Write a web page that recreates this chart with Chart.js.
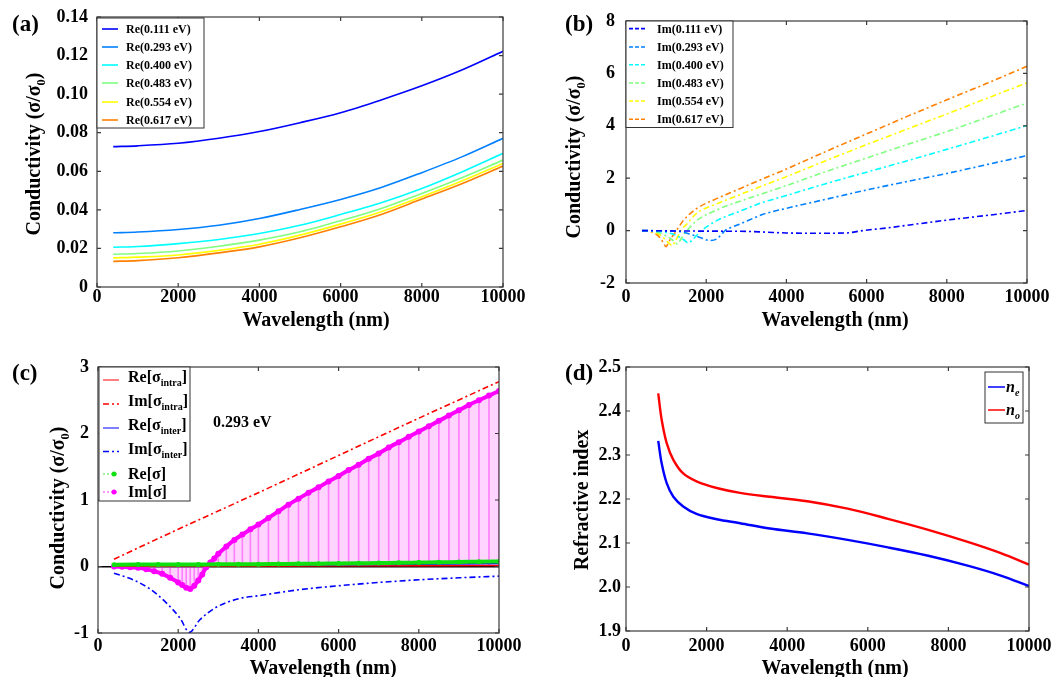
<!DOCTYPE html>
<html lang="en">
<head>
<meta charset="UTF-8">
<title>Conductivity and refractive index</title>
<style>
  body, html { margin: 0; padding: 0; background: #fff; overflow: hidden; }
  #wrap { position: relative; width: 1055px; height: 677px; }
  canvas { position: absolute; }
  #ca { left: 0; top: 0; }
  #cb { left: 530px; top: 0; }
  #cc { left: 0; top: 340px; }
  #cd { left: 530px; top: 340px; }
</style>
</head>
<body>
<div id="wrap">
  <canvas id="ca" width="530" height="340"></canvas>
  <canvas id="cb" width="525" height="340"></canvas>
  <canvas id="cc" width="530" height="337"></canvas>
  <canvas id="cd" width="525" height="337"></canvas>
</div>

<script src="https://cdn.jsdelivr.net/npm/chart.js"></script>
<script>
    // ---- (a) real part of conductivity, sigma/sigma0 ----
    const wlA = [400, 1000, 2000, 3000, 4000, 5000, 6000, 7000, 8000, 9000, 10000];
    const re111 = [0.0728, 0.0732, 0.0745, 0.0771, 0.0806, 0.0852, 0.0904, 0.0970, 0.1043, 0.1126, 0.1222];
    const re293 = [0.0281, 0.0285, 0.0298, 0.0320, 0.0355, 0.0402, 0.0454, 0.0516, 0.0593, 0.0676, 0.0771];
    const re400 = [0.0206, 0.0210, 0.0225, 0.0246, 0.0277, 0.0320, 0.0376, 0.0437, 0.0511, 0.0598, 0.0693];
    const re483 = [0.0170, 0.0174, 0.0187, 0.0211, 0.0243, 0.0286, 0.0343, 0.0407, 0.0485, 0.0568, 0.0658];
    const re554 = [0.0151, 0.0155, 0.0166, 0.0190, 0.0222, 0.0269, 0.0326, 0.0390, 0.0468, 0.0551, 0.0641];
    const re617 = [0.0133, 0.0137, 0.0152, 0.0177, 0.0208, 0.0255, 0.0312, 0.0376, 0.0456, 0.0537, 0.0627];

    // ---- (b) imaginary part ----
    const wl111 = [400, 1000, 2000, 3000, 3500, 4000, 4500, 5000, 5500, 5900, 6500, 7000, 8000, 9000, 10000];
    const im111 = [0, -0.01, -0.02, -0.03, -0.06, -0.09, -0.10, -0.10, -0.09, 0, 0.10, 0.20, 0.40, 0.58, 0.77];
    const wl293 = [400, 1000, 1400, 1580, 1830, 2090, 2260, 2370, 2470, 2590, 2840, 3420, 4000, 5000, 6000, 7000, 8000, 9000, 10000];
    const im293 = [0, -0.01, -0.05, -0.13, -0.25, -0.38, -0.32, -0.16, 0, 0.10, 0.25, 0.62, 0.85, 1.20, 1.55, 1.87, 2.18, 2.52, 2.86];
    const wl400 = [400, 800, 1100, 1300, 1450, 1550, 1650, 1750, 1880, 2000, 2260, 2840, 3420, 4000, 5000, 6000, 7000, 8000, 9000, 10000];
    const im400 = [0, -0.03, -0.10, -0.22, -0.36, -0.47, -0.36, -0.20, 0, 0.13, 0.38, 0.74, 1.08, 1.34, 1.80, 2.23, 2.66, 3.10, 3.55, 4.01];
    const wl483 = [400, 600, 800, 1000, 1150, 1280, 1380, 1450, 1520, 1620, 1760, 2260, 2840, 3420, 4000, 5000, 6000, 7000, 8000, 9000, 10000];
    const im483 = [0, -0.02, -0.07, -0.20, -0.35, -0.51, -0.30, -0.12, 0, 0.17, 0.38, 0.79, 1.12, 1.42, 1.72, 2.26, 2.77, 3.28, 3.78, 4.32, 4.87];
    const wl554 = [400, 600, 800, 950, 1050, 1150, 1230, 1300, 1370, 1520, 1760, 2260, 2840, 3420, 4000, 5000, 6000, 7000, 8000, 9000, 10000];
    const im554 = [0, -0.03, -0.12, -0.30, -0.45, -0.57, -0.40, -0.20, 0.02, 0.25, 0.66, 1.02, 1.37, 1.72, 2.06, 2.68, 3.28, 3.87, 4.45, 5.05, 5.64];
    const wl617 = [400, 590, 790, 915, 1000, 1060, 1140, 1220, 1300, 1425, 1760, 2260, 2840, 3420, 4000, 5000, 6000, 7000, 8000, 9000, 10000];
    const im617 = [0, -0.04, -0.18, -0.42, -0.61, -0.45, -0.25, -0.09, 0.10, 0.38, 0.84, 1.22, 1.60, 1.98, 2.35, 3.03, 3.69, 4.35, 4.99, 5.62, 6.27];

    // ---- (c) intra / inter band parts at 0.293 eV ----
    const wlIntra = [400, 2000, 4000, 6000, 8000, 10000];
    const reIntra = [0.004, 0.005, 0.007, 0.009, 0.012, 0.016];
    const imIntra = [0.11, 0.56, 1.11, 1.67, 2.23, 2.78];
    const reInter = [0.022, 0.022, 0.024, 0.027, 0.034, 0.044];
    const wlInter = [400, 880, 1300, 1710, 2050, 2280, 2540, 2960, 3540, 4000, 5000, 6000, 7000, 8000, 9000, 10000];
    const imInter = [-0.10, -0.20, -0.34, -0.55, -0.78, -0.99, -0.80, -0.61, -0.48, -0.44, -0.35, -0.29, -0.24, -0.20, -0.17, -0.145];
    const wlReTot = [400, 1000, 1500, 2000, 2500, 3000, 3500, 4000, 4500, 5000, 5500, 6000, 6500, 7000, 7500, 8000, 8500, 9000, 9500, 10000];
    const reTot = [0.028, 0.0285, 0.029, 0.030, 0.031, 0.032, 0.034, 0.0355, 0.038, 0.040, 0.043, 0.045, 0.048, 0.052, 0.055, 0.059, 0.063, 0.068, 0.072, 0.077];
    const wlImTot = [400, 600, 800, 1000, 1200, 1400, 1600, 1800, 2000,
                     2100, 2200, 2300, 2400, 2500, 2600, 2700, 2800, 2900, 3000,
                     3200, 3400, 3600, 3800, 4000,
                     4250, 4500, 4750, 5000, 5250, 5500, 5750, 6000, 6250, 6500, 6750, 7000,
                     7250, 7500, 7750, 8000, 8250, 8500, 8750, 9000, 9250, 9500, 9750, 10000];
    const imTot = [0.00, -0.005, -0.01, -0.02, -0.04, -0.07, -0.11, -0.17, -0.24,
                   -0.28, -0.32, -0.34, -0.29, -0.21, -0.12, -0.01, 0.06, 0.12, 0.19,
                   0.30, 0.40, 0.48, 0.56, 0.63,
                   0.73, 0.83, 0.93, 1.02, 1.11, 1.19, 1.28, 1.36, 1.45, 1.53, 1.62, 1.70,
                   1.79, 1.87, 1.95, 2.03, 2.11, 2.19, 2.27, 2.35, 2.43, 2.50, 2.57, 2.64];

    // ---- (d) refractive index ----
    const wlN = [800, 885, 1010, 1175, 1420, 1750, 2250, 2830, 3570, 4500, 5500, 6500, 7500, 8500, 9300, 10000];
    const nE = [2.332, 2.281, 2.236, 2.205, 2.183, 2.166, 2.154, 2.145, 2.133, 2.122, 2.107, 2.090, 2.071, 2.048, 2.026, 2.002];
    const nO = [2.440, 2.380, 2.327, 2.289, 2.258, 2.240, 2.225, 2.214, 2.205, 2.195, 2.178, 2.155, 2.130, 2.102, 2.077, 2.051];

    const jet = ['#0000ff', '#0080ff', '#00ffff', '#80ff80', '#ffff00', '#ff8000'];
    const SERIF = '"Liberation Serif", "Times New Roman", serif';
    const DASHDOT = [6, 3, 2, 3];
    const tickFont = { family: SERIF, size: 18, weight: 'bold' };

    function pts(xs, ys) {
        return xs.map((x, i) => ({ x: x, y: ys[i] }));
    }

    // text with _{sub} parts
    function richParts(s) {
        const out = [];
        const re = /_\{([^}]*)\}/g;
        let last = 0, m;
        while ((m = re.exec(s))) {
            if (m.index > last) out.push({ t: s.slice(last, m.index), sub: false });
            out.push({ t: m[1], sub: true });
            last = re.lastIndex;
        }
        if (last < s.length) out.push({ t: s.slice(last), sub: false });
        return out;
    }

    function fontStr(size, italic) {
        return (italic ? 'italic ' : '') + 'bold ' + size + 'px ' + SERIF;
    }

    // y is the visual middle of the capitals
    function drawRich(ctx, s, x, y, size, subSize, italic, align) {
        const parts = richParts(s);
        let w = 0;
        parts.forEach(p => {
            ctx.font = fontStr(p.sub ? subSize : size, italic);
            p.w = ctx.measureText(p.t).width;
            w += p.w;
        });
        let cx = align === 'center' ? x - w / 2 : (align === 'right' ? x - w : x);
        const base = y + size * 0.33;
        ctx.textAlign = 'left';
        ctx.textBaseline = 'alphabetic';
        parts.forEach(p => {
            ctx.font = fontStr(p.sub ? subSize : size, italic);
            ctx.fillText(p.t, cx, base + (p.sub ? size * 0.25 : 0));
            cx += p.w;
        });
    }

    // box frame + inward tick marks on all four sides
    const frameTicks = {
        id: 'frameTicks',
        afterDatasetsDraw(chart) {
            const ctx = chart.ctx, a = chart.chartArea;
            const x = chart.scales.x, y = chart.scales.y;
            ctx.save();
            ctx.strokeStyle = '#3a3a3a';
            ctx.lineWidth = 1.2;
            ctx.strokeRect(a.left, a.top, a.width, a.height);
            ctx.beginPath();
            const L = 4;
            x.ticks.forEach(t => {
                const px = x.getPixelForValue(t.value);
                ctx.moveTo(px, a.bottom); ctx.lineTo(px, a.bottom - L);
                ctx.moveTo(px, a.top); ctx.lineTo(px, a.top + L);
            });
            y.ticks.forEach(t => {
                const py = y.getPixelForValue(t.value);
                ctx.moveTo(a.left, py); ctx.lineTo(a.left + L, py);
                ctx.moveTo(a.right, py); ctx.lineTo(a.right - L, py);
            });
            ctx.stroke();
            ctx.restore();
        }
    };

    const boxLegend = {
        id: 'boxLegend',
        afterDraw(chart, args, o) {
            if (!o.rows) return;
            const ctx = chart.ctx, a = chart.chartArea;
            const bx = a.left + o.left, by = a.top + o.top;
            ctx.save();
            ctx.fillStyle = '#fff';
            ctx.fillRect(bx, by, o.width, o.height);
            ctx.strokeStyle = '#333';
            ctx.lineWidth = 1;
            ctx.strokeRect(bx, by, o.width, o.height);
            o.rows.forEach(r => {
                const ds = chart.data.datasets[r.ds];
                const yy = by + r.y;
                ctx.strokeStyle = ds.borderColor;
                ctx.lineWidth = r.lineWidth || ds.borderWidth;
                ctx.setLineDash(r.dash || ds.borderDash || []);
                ctx.beginPath();
                ctx.moveTo(bx + o.x0, yy);
                ctx.lineTo(bx + o.x1, yy);
                ctx.stroke();
                ctx.setLineDash([]);
                if (r.marker) {
                    ctx.fillStyle = ds.borderColor;
                    ctx.beginPath();
                    ctx.arc(bx + (o.x0 + o.x1) / 2 + 3, yy, r.marker, 0, 2 * Math.PI);
                    ctx.fill();
                }
                ctx.fillStyle = '#000';
                drawRich(ctx, r.label, bx + o.tx, yy + (r.dy || 0), o.size, o.subSize || o.size * 0.6, o.italic, 'left');
            });
            ctx.restore();
        }
    };

    const panelText = {
        id: 'panelText',
        afterDraw(chart, args, o) {
            if (!o.items) return;
            const ctx = chart.ctx;
            ctx.save();
            ctx.fillStyle = '#000';
            o.items.forEach(it => {
                ctx.save();
                ctx.translate(it.x, it.y);
                if (it.rotate) ctx.rotate(-Math.PI / 2);
                drawRich(ctx, it.text, 0, 0, it.size, it.subSize || it.size * 0.62, false, it.align || 'center');
                ctx.restore();
            });
            ctx.restore();
        }
    };

    function axes(o) {
        return {
            x: {
                type: 'linear', min: 0, max: 10000, offset: false,
                grid: { display: false, drawTicks: false },
                border: { display: false },
                ticks: {
                    stepSize: 2000, padding: o.xPad, color: '#000', font: tickFont,
                    maxRotation: 0, autoSkip: false,
                    callback: v => String(v)
                },
                afterFit(s) { s.height = o.xH; s.paddingLeft = 0; s.paddingRight = 0; }
            },
            y: {
                type: 'linear', min: o.yMin, max: o.yMax,
                grid: o.zeroLine
                    ? { drawTicks: false, lineWidth: 1.5, color: c => c.tick && c.tick.value === 0 ? '#000' : 'rgba(0,0,0,0)' }
                    : { display: false, drawTicks: false },
                border: { display: false },
                ticks: {
                    stepSize: o.yStep, padding: o.yPad, color: '#000', font: tickFont,
                    autoSkip: false, callback: o.yFmt
                },
                afterFit(s) { s.width = o.yW; s.paddingTop = 0; s.paddingBottom = 0; }
            }
        };
    }

    function baseOptions(o, legend, items) {
        return {
            responsive: false,
            animation: false,
            layout: { padding: { left: 0, top: o.top, right: o.right, bottom: 0 } },
            scales: axes(o),
            elements: { line: o.smooth ? { tension: 0.35 } : { cubicInterpolationMode: 'monotone' } },
            plugins: {
                legend: { display: false },
                tooltip: { enabled: false },
                boxLegend: legend,
                panelText: { items: items }
            }
        };
    }

    function lineSet(label, xs, ys, color, width, dash) {
        return {
            label: label, data: pts(xs, ys), borderColor: color, backgroundColor: color,
            borderWidth: width, borderDash: dash || [], pointRadius: 0, fill: false
        };
    }

    const plugins = [frameTicks, boxLegend, panelText];

    // (a)
    const reA = [re111, re293, re400, re483, re554, re617];
    const evLabels = ['0.111', '0.293', '0.400', '0.483', '0.554', '0.617'];
    const rowsA = [11, 29, 47, 65, 84, 102];
    new Chart(document.getElementById('ca'), {
        type: 'line',
        data: { datasets: reA.map((ys, i) => lineSet('Re(' + evLabels[i] + ' eV)', wlA, ys, jet[i], 1.6)) },
        options: baseOptions(
            { top: 17, right: 27, xH: 53, yW: 97, xPad: 0, yPad: 9, yMin: 0, yMax: 0.14, yStep: 0.02,
              yFmt: v => v === 0 ? '0' : v.toFixed(2) },
            { left: 0, top: 1, width: 107, height: 110, x0: 5, x1: 21, tx: 29, size: 12,
              rows: evLabels.map((e, i) => ({ ds: i, y: rowsA[i], label: 'Re(' + e + ' eV)' })) },
            [
                { text: '(a)', x: 12, y: 23, size: 23, align: 'left' },
                { text: 'Wavelength (nm)', x: 316, y: 319, size: 20 },
                { text: 'Conductivity (σ/σ_{0})', x: 33, y: 154, size: 20, rotate: true }
            ]),
        plugins: plugins
    });

    // (b)
    const wlB = [wl111, wl293, wl400, wl483, wl554, wl617];
    const imB = [im111, im293, im400, im483, im554, im617];
    const rowsB = [7.6, 26, 43.8, 62, 80, 98.3];
    new Chart(document.getElementById('cb'), {
        type: 'line',
        data: { datasets: imB.map((ys, i) => lineSet('Im(' + evLabels[i] + ' eV)', wlB[i], ys, jet[i], 1.6, DASHDOT)) },
        options: baseOptions(
            { top: 21, right: 28, xH: 57, yW: 96, xPad: 4, yPad: 11, yMin: -2, yMax: 8, yStep: 2,
              yFmt: v => String(v) },
            { left: 0, top: 0, width: 107, height: 106.5, x0: 3, x1: 21, tx: 31, size: 12,
              rows: evLabels.map((e, i) => ({ ds: i, y: rowsB[i], label: 'Im(' + e + ' eV)', dash: [4, 2] })) },
            [
                { text: '(b)', x: 35, y: 23, size: 23, align: 'left' },
                { text: 'Wavelength (nm)', x: 305, y: 319, size: 20 },
                { text: 'Conductivity (σ/σ_{0})', x: 43, y: 157, size: 20, rotate: true }
            ]),
        plugins: plugins
    });

    // (c)
    const dsC = [
        Object.assign(lineSet('Re intra', wlIntra, reIntra, '#ff0000', 1.4), { order: 5 }),
        Object.assign(lineSet('Im intra', wlIntra, imIntra, '#ff0000', 1.6, DASHDOT), { order: 3 }),
        Object.assign(lineSet('Re inter', wlIntra, reInter, '#0000ff', 1.4), { order: 4 }),
        Object.assign(lineSet('Im inter', wlInter, imInter, '#0000ff', 1.6, DASHDOT), { order: 3 }),
        Object.assign(lineSet('Re total', wlReTot, reTot, '#10e010', 4), { order: 1, pointRadius: 2.5, pointBorderWidth: 0 }),
        Object.assign(lineSet('Im total', wlImTot, imTot, '#ff00ff', 4), {
            order: 6, pointRadius: 3, pointBorderWidth: 0,
            fill: { target: 'origin', above: 'rgba(255,0,255,0.17)', below: 'rgba(255,0,255,0.17)' }
        }),
        { type: 'bar', label: 'stems', data: pts(wlImTot, imTot), backgroundColor: 'rgba(255,0,255,0.4)',
          barThickness: 1, order: 10 }
    ];
    new Chart(document.getElementById('cc'), {
        type: 'line',
        data: { datasets: dsC },
        options: baseOptions(
            { top: 27, right: 31, xH: 44, yW: 98, xPad: 3, yPad: 9, yMin: -1, yMax: 3, yStep: 1,
              yFmt: v => String(v), zeroLine: true },
            { left: 1, top: 0, width: 91, height: 134, x0: 4, x1: 20, tx: 29, size: 16, subSize: 10,
              rows: [
                  { ds: 0, y: 13, label: 'Re[σ_{intra}]', dy: -3, lineWidth: 1 },
                  { ds: 1, y: 37, label: 'Im[σ_{intra}]', dy: -3, lineWidth: 1.4 },
                  { ds: 2, y: 61, label: 'Re[σ_{inter}]', dy: -3, lineWidth: 1 },
                  { ds: 3, y: 84.5, label: 'Im[σ_{inter}]', dy: -3, lineWidth: 1.4 },
                  { ds: 4, y: 107, label: 'Re[σ]', lineWidth: 0.8, dash: [2, 2], marker: 2.5 },
                  { ds: 5, y: 125, label: 'Im[σ]', lineWidth: 0.8, dash: [2, 2], marker: 2.5 }
              ] },
            [
                { text: '(c)', x: 12, y: 32, size: 23, align: 'left' },
                { text: '0.293 eV', x: 213, y: 82, size: 16, align: 'left' },
                { text: 'Wavelength (nm)', x: 323, y: 327, size: 20 },
                { text: 'Conductivity (σ/σ_{0})', x: 57, y: 168, size: 20, rotate: true }
            ]),
        plugins: plugins
    });

    // (d)
    new Chart(document.getElementById('cd'), {
        type: 'line',
        data: { datasets: [
            lineSet('ne', wlN, nE, '#0000ff', 2.4),
            lineSet('no', wlN, nO, '#ff0000', 2.4)
        ] },
        options: baseOptions(
            { top: 27, right: 26, xH: 46, yW: 96, xPad: 5, yPad: 5, yMin: 1.9, yMax: 2.5, yStep: 0.1,
              yFmt: v => v.toFixed(1), smooth: true },
            { left: 359, top: 5, width: 38, height: 51, x0: 3, x1: 20, tx: 21, size: 16, subSize: 10, italic: true,
              rows: [
                  { ds: 0, y: 15, label: 'n_{e}', lineWidth: 1.5 },
                  { ds: 1, y: 38, label: 'n_{o}', lineWidth: 1.5 }
              ] },
            [
                { text: '(d)', x: 35, y: 32, size: 23, align: 'left' },
                { text: 'Wavelength (nm)', x: 305, y: 327, size: 20 },
                { text: 'Refractive index', x: 51, y: 160, size: 20, rotate: true }
            ]),
        plugins: plugins
    });
</script>
</body>
</html>
